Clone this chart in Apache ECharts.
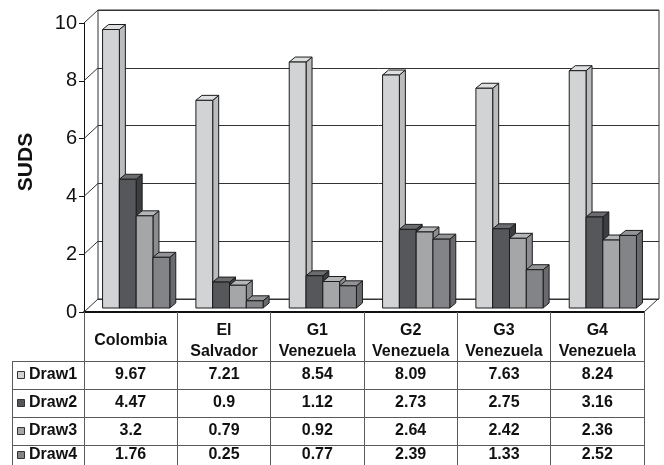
<!DOCTYPE html>
<html>
<head>
<meta charset="utf-8">
<script src="https://cdn.jsdelivr.net/npm/echarts@6/dist/echarts.min.js"></script>
<style>
  html, body { margin: 0; padding: 0; background: #ffffff; }
  #chart { width: 664px; height: 465px; }
</style>
</head>
<body>
<div id="chart"></div>
<script>
// Categories (table header) and the four draws
const categories = ['Colombia', 'El\nSalvador', 'G1\nVenezuela', 'G2\nVenezuela', 'G3\nVenezuela', 'G4\nVenezuela'];
const seriesNames = ['Draw1', 'Draw2', 'Draw3', 'Draw4'];
const draw1 = [9.67, 7.21, 8.54, 8.09, 7.63, 8.24];
const draw2 = [4.47, 0.9, 1.12, 2.73, 2.75, 3.16];
const draw3 = [3.2, 0.79, 0.92, 2.64, 2.42, 2.36];
const draw4 = [1.76, 0.25, 0.77, 2.39, 1.33, 2.52];
const yTicks = [0, 2, 4, 6, 8, 10];
const yTitle = 'SUDS';

const allDraws = [draw1, draw2, draw3, draw4];

// Face shading for each draw: front, side, top
const shades = [
  { front: '#d2d3d5', side: '#bbbcbe', top: '#dedfe1' },
  { front: '#55575a', side: '#3c3d40', top: '#6b6c6f' },
  { front: '#a5a6a8', side: '#8c8d90', top: '#b5b6b8' },
  { front: '#838487', side: '#696a6d', top: '#939497' }
];

const FONT = "'Liberation Sans', Arial, Helvetica, sans-serif";
const INK = '#111111';
const RULE = '#5a5a5a';
const WALL = '#333333';

// Three planes of the box: front edge, bar plane, back wall
const FRONT = { left: 84, top: 23, width: 560, height: 289 };
const MID = { left: 89.5, top: 20, width: 560, height: 288 };
const BACK = { left: 98, top: 10, width: 561, height: 289 };
const WALL_DX = BACK.left - FRONT.left;
const WALL_DY = (BACK.top + BACK.height) - (FRONT.top + FRONT.height);
const BAR_DEPTH = [6, -5];
const GROUP_FRACTION = 0.72;
const HEADER_H = 49;
const ROW_H = 28;
const TABLE_LEFT = 12;

const chart = echarts.init(document.getElementById('chart'), null, { renderer: 'canvas' });

function gridOf(p) {
  return { left: p.left, top: p.top, width: p.width, height: p.height, containLabel: false };
}

// 3D bar for draw k
function barRenderer(k) {
  return function (params, api) {
    const idx = api.value(0);
    const v = api.value(1);
    const base = api.coord([idx, 0]);
    const top = api.coord([idx, v]);
    const band = api.size([1, 0])[0];
    const group = band * GROUP_FRACTION;
    const w = group / 4;
    const x0 = base[0] - group / 2 + k * w;
    const x1 = x0 + w;
    const yb = base[1];
    const yt = top[1];
    const dx = BAR_DEPTH[0], dy = BAR_DEPTH[1];
    const c = shades[k];
    const stroke = { stroke: '#1c1c1c', lineWidth: 1 };
    return {
      type: 'group',
      children: [
        { type: 'polygon', shape: { points: [[x1, yb], [x1 + dx, yb + dy], [x1 + dx, yt + dy], [x1, yt]] },
          style: Object.assign({ fill: c.side }, stroke) },
        { type: 'polygon', shape: { points: [[x0, yt], [x0 + dx, yt + dy], [x1 + dx, yt + dy], [x1, yt]] },
          style: Object.assign({ fill: c.top }, stroke) },
        { type: 'rect', shape: { x: x0, y: yt, width: w, height: yb - yt },
          style: Object.assign({ fill: c.front }, stroke) }
      ]
    };
  };
}

// Side-wall rules joining the front axis to the back wall, plus the right floor edge
function sideWallRenderer(params, api) {
  const v = api.value(0);
  const band = api.size([1, 0])[0];
  const p = api.coord([0, v]);
  const xl = p[0] - band / 2;
  const children = [
    { type: 'line', shape: { x1: xl, y1: p[1], x2: xl + WALL_DX, y2: p[1] + WALL_DY },
      style: { stroke: WALL, lineWidth: 1 } }
  ];
  if (v === 0) {
    const q = api.coord([categories.length - 1, 0]);
    const xr = q[0] + band / 2;
    children.push({ type: 'line', shape: { x1: xr, y1: q[1], x2: xr + WALL_DX, y2: q[1] + WALL_DY },
      style: { stroke: WALL, lineWidth: 1 } });
  }
  return { type: 'group', children: children };
}

function rowBox(r, floorY, h) {
  const top = floorY + HEADER_H + r * ROW_H;
  const bottom = Math.min(top + ROW_H, h);
  return { top: top, center: (top + bottom) / 2 };
}

// Table body: the value of every draw under its category
function tableValuesRenderer(params, api) {
  const idx = api.value(0);
  const p = api.coord([idx, 0]);
  const h = api.getHeight();
  const children = [];
  for (let r = 0; r < allDraws.length; r++) {
    const box = rowBox(r, p[1], h);
    children.push({
      type: 'text',
      style: { x: p[0], y: box.center, text: String(allDraws[r][idx]), fill: INK,
        font: 'bold 16px ' + FONT, textAlign: 'center', textVerticalAlign: 'middle' }
    });
  }
  return { type: 'group', children: children };
}

// Table row headers (legend key + draw name) and horizontal rules
function tableRowsRenderer(params, api) {
  const r = api.value(0);
  const band = api.size([1, 0])[0];
  const first = api.coord([0, 0]);
  const last = api.coord([categories.length - 1, 0]);
  const xr = last[0] + band / 2;
  const h = api.getHeight();
  const box = rowBox(r, first[1], h);
  const children = [
    { type: 'line', shape: { x1: TABLE_LEFT, y1: box.top + 0.5, x2: xr, y2: box.top + 0.5 },
      style: { stroke: RULE, lineWidth: 1 } },
    { type: 'rect', shape: { x: TABLE_LEFT + 5.5, y: Math.round(box.center - 4) + 0.5, width: 7, height: 7 },
      style: { fill: shades[r].front, stroke: '#333333', lineWidth: 1 } },
    { type: 'text', style: { x: TABLE_LEFT + 17, y: box.center, text: seriesNames[r], fill: INK,
        font: 'bold 16px ' + FONT, textAlign: 'left', textVerticalAlign: 'middle' } }
  ];
  if (r === 0) {
    children.push({ type: 'line', shape: { x1: TABLE_LEFT + 0.5, y1: box.top, x2: TABLE_LEFT + 0.5, y2: h },
      style: { stroke: RULE, lineWidth: 1 } });
  }
  return { type: 'group', children: children };
}

const hiddenAxis = { show: false };

const option = {
  animation: false,
  backgroundColor: '#ffffff',
  textStyle: { fontFamily: FONT },
  grid: [gridOf(FRONT), gridOf(MID),
    Object.assign(gridOf(BACK), { show: true, borderColor: WALL, borderWidth: 1, backgroundColor: 'transparent' })],
  xAxis: [
    {
      type: 'category', gridIndex: 0, data: categories, boundaryGap: true,
      axisLine: { show: true, lineStyle: { color: INK, width: 2 } },
      axisTick: { show: true, interval: 0, length: 153, lineStyle: { color: RULE, width: 1 } },
      axisLabel: { show: true, interval: 0, margin: 29, verticalAlign: 'middle', color: INK,
        fontSize: 16, fontWeight: 'bold', lineHeight: 21, fontFamily: FONT },
      splitLine: { show: false }
    },
    Object.assign({ type: 'category', gridIndex: 1, data: categories }, hiddenAxis),
    Object.assign({ type: 'category', gridIndex: 2, data: categories }, hiddenAxis)
  ],
  yAxis: [
    {
      type: 'value', gridIndex: 0, min: yTicks[0], max: yTicks[yTicks.length - 1], interval: 2,
      axisLine: { show: true, lineStyle: { color: INK, width: 1 } },
      axisTick: { show: true, length: 5, lineStyle: { color: INK } },
      axisLabel: { show: true, margin: 7, color: INK, fontSize: 20, fontFamily: FONT },
      splitLine: { show: false }
    },
    { type: 'value', gridIndex: 1, min: 0, max: 10, interval: 2, show: false },
    {
      type: 'value', gridIndex: 2, min: 0, max: 10, interval: 2,
      axisLine: { show: false }, axisTick: { show: false }, axisLabel: { show: false },
      splitLine: { show: true, lineStyle: { color: WALL, width: 1 } }
    }
  ],
  graphic: [
    {
      type: 'text', x: 26, y: 162, rotation: Math.PI / 2,
      style: { text: yTitle, fill: INK, font: 'bold 21px ' + FONT, textAlign: 'center', textVerticalAlign: 'middle' }
    }
  ],
  series: [
    {
      type: 'custom', name: 'sideWall', xAxisIndex: 0, yAxisIndex: 0, z: 1,
      data: yTicks.map(v => [v]), renderItem: sideWallRenderer, silent: true
    },
    {
      type: 'custom', name: 'tableRows', xAxisIndex: 0, yAxisIndex: 0, z: 1,
      data: seriesNames.map((n, r) => [r]), renderItem: tableRowsRenderer, silent: true
    },
    {
      type: 'custom', name: 'tableValues', xAxisIndex: 0, yAxisIndex: 0, z: 1,
      data: categories.map((c, i) => [i]), renderItem: tableValuesRenderer, silent: true
    }
  ].concat(allDraws.map((vals, k) => ({
    type: 'custom', name: seriesNames[k], xAxisIndex: 1, yAxisIndex: 1, z: 3,
    data: vals.map((v, i) => [i, v]), encode: { x: 0, y: 1 },
    renderItem: barRenderer(k)
  })))
};

chart.setOption(option);
</script>
</body>
</html>
